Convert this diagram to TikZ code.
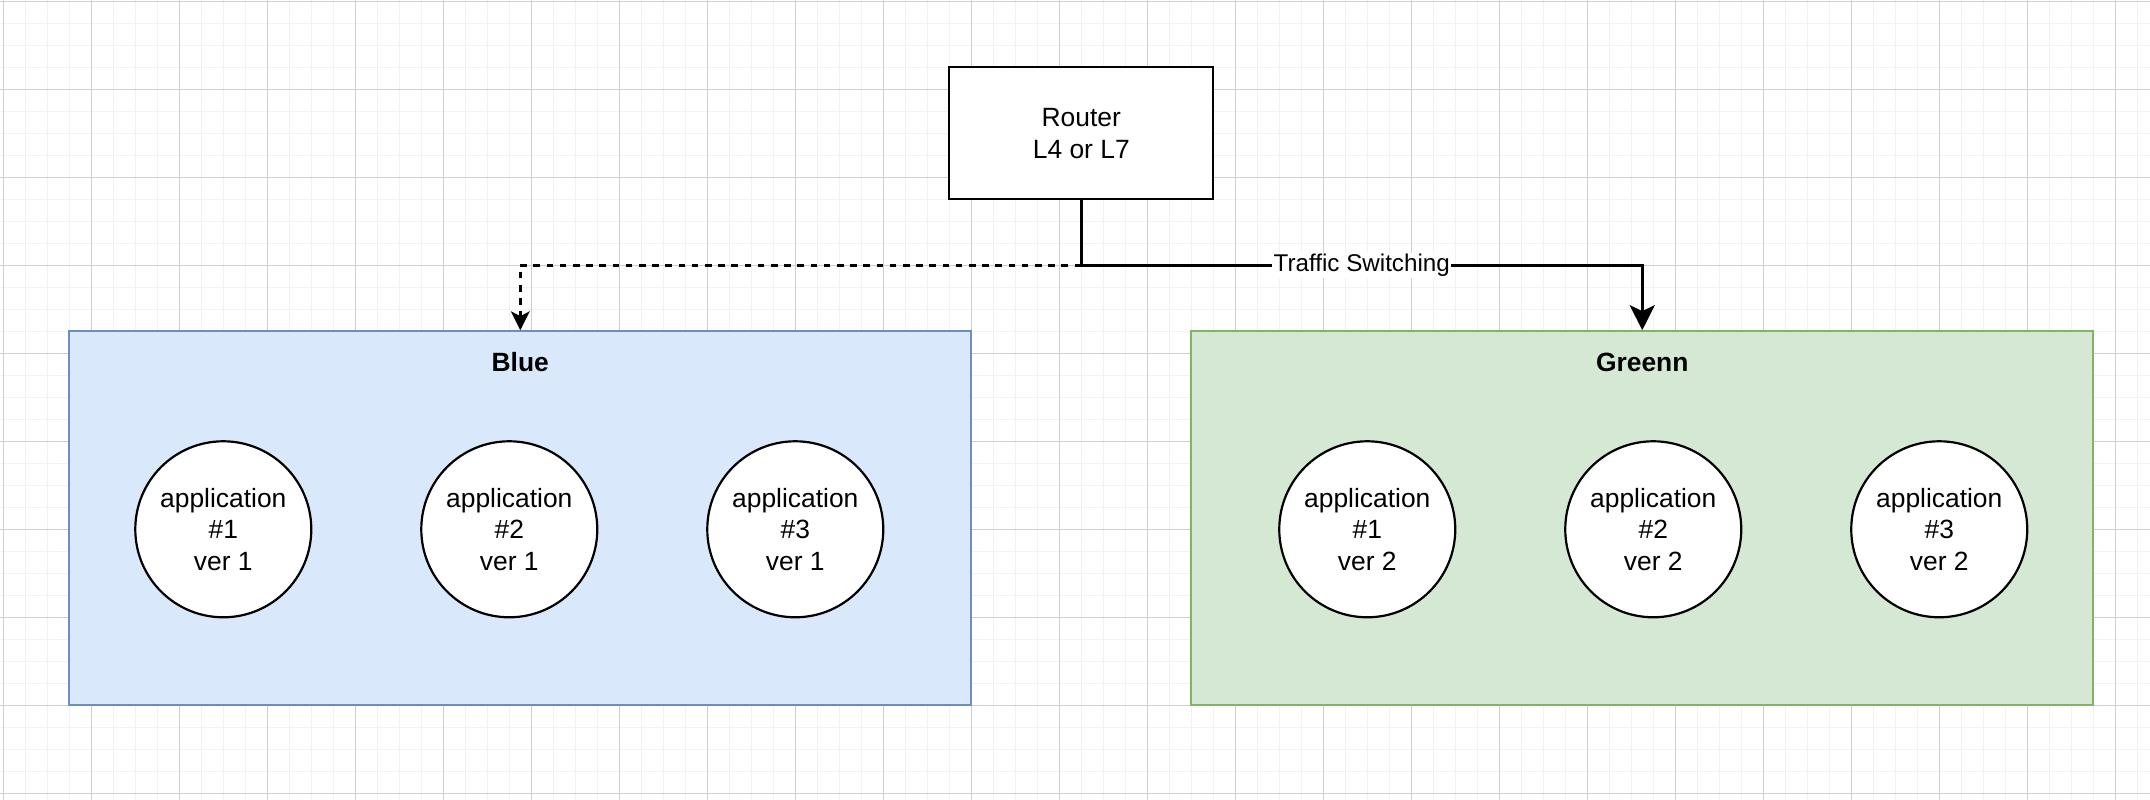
\documentclass[tikz,border=0pt]{standalone}
\usepackage{fontspec}
\setmainfont{Liberation Sans}
\usetikzlibrary{arrows.meta,positioning}
\definecolor{gridminor}{HTML}{F2F2F2}
\definecolor{gridmajor}{HTML}{D0D0D0}
\definecolor{bluefill}{HTML}{DAE8FC}
\definecolor{blueline}{HTML}{6C8EBF}
\definecolor{greenfill}{HTML}{D5E8D4}
\definecolor{greenline}{HTML}{82B366}
\begin{document}
\begin{tikzpicture}[x=1.1pt, y=-1.1pt,
                minorline/.style = {draw=gridminor, line width=0.5pt},
                majorline/.style = {draw=gridmajor, line width=0.5pt},
                router/.style = {draw, line width=1.1pt, fill=white, minimum width=132pt, minimum height=66pt, inner sep=0pt, align=center, font=\fontsize{13.2}{15.84}\selectfont},
                bluezone/.style = {draw=blueline, fill=bluefill, line width=1.1pt, minimum width=451pt, minimum height=187pt, inner sep=0pt},
                greenzone/.style = {draw=greenline, fill=greenfill, line width=1.1pt, minimum width=451pt, minimum height=187pt, inner sep=0pt},
                zonetitle/.style = {inner sep=0pt, font=\fontsize{13.2}{15.84}\selectfont\bfseries},
                app/.style = {draw, circle, line width=1.1pt, fill=white, minimum size=88pt, inner sep=0pt, align=center, font=\fontsize{13.2}{15.84}\selectfont},
                switchlabel/.style = {fill=white, inner sep=0.6pt, font=\fontsize{12.1}{14.5}\selectfont},
                liveedge/.style = {draw, line width=1.65pt, -{Stealth[length=12.5pt, width=12.5pt, inset=3pt]}},
                idleedge/.style = {draw, line width=1.3pt, dash pattern=on 3.3pt off 3.3pt, -{Stealth[length=9.5pt, width=9.5pt, inset=2.5pt, line width=0pt]}}
            ]
            \useasboundingbox (-1.5,-0.59) rectangle (975.8,363.05);
            % background grid
            \fill[white] (-1.5,-0.59) rectangle (975.8,363.05);
            \foreach \gx in {0,10,...,970}
                \draw[minorline] (\gx,-0.59) -- (\gx,363.05);
            \foreach \gy in {0,10,...,360}
                \draw[minorline] (-1.5,\gy) -- (975.8,\gy);
            \foreach \gx in {0,40,...,960}
                \draw[majorline] (\gx,-0.59) -- (\gx,363.05);
            \foreach \gy in {0,40,...,360}
                \draw[majorline] (-1.5,\gy) -- (975.8,\gy);

            \node[router] (router) at (490,60) {Router\\L4 or L7};

            \node[bluezone] (blue) at (235,235) {};
            \node[zonetitle] (bluetitle) at (235,164) {Blue};
            \node[greenzone] (green) at (745,235) {};
            \node[zonetitle] (greentitle) at (745,164) {Greenn};

            \foreach \n/\ax in {1/100,2/230,3/360}
                \node[app] (blueapp\n) at (\ax,240) {application\\\#\n\\ver 1};
            \foreach \n/\ax in {1/620,2/750,3/880}
                \node[app] (greenapp\n) at (\ax,240) {application\\\#\n\\ver 2};

            \coordinate (split) at (490,120);
            \draw[idleedge] (split) -| (blue.north);
            \draw[liveedge] (router.south) -- (split)
                -- node[switchlabel] {Traffic Switching} (split -| green.north)
                -- (green.north);
        \end{tikzpicture}
\end{document}
